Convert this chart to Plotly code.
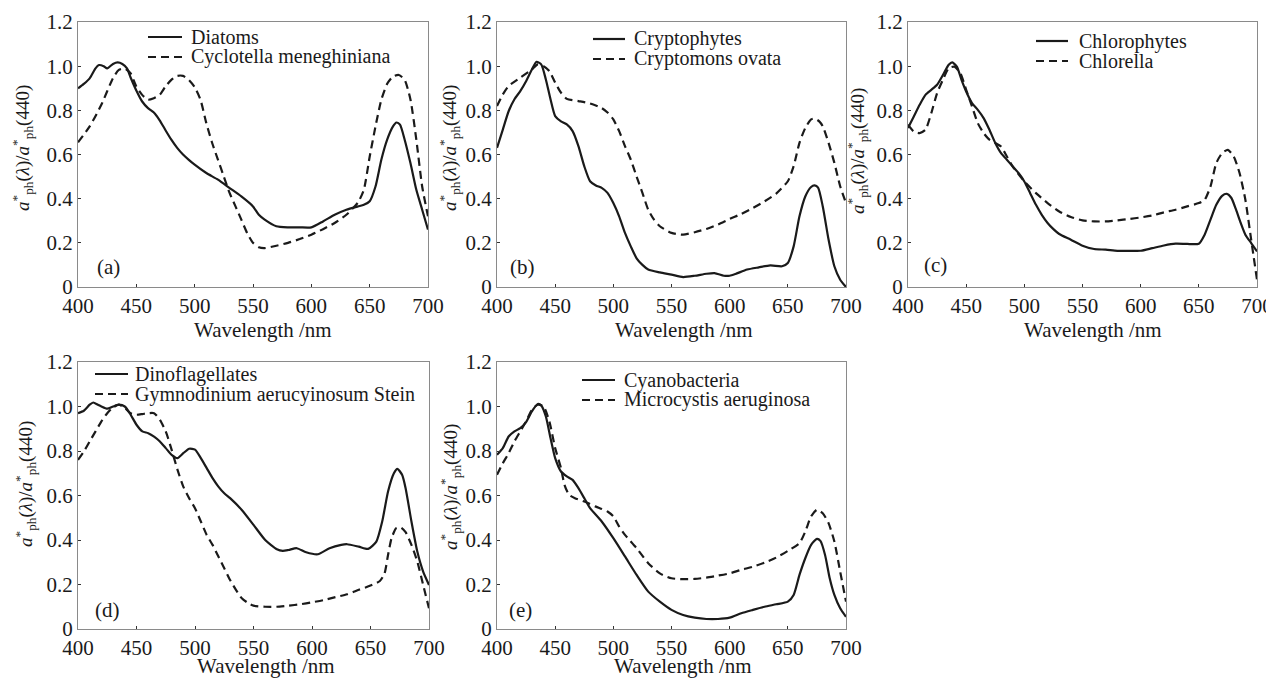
import plotly.graph_objects as go

# ---------------- data ----------------
wl_a_solid = [400,405,410,415,418,422,425,430,434,438,442,445,450,455,460,465,470,475,480,485,490,495,500,510,520,530,540,550,555,560,570,580,590,600,610,620,630,640,645,650,655,660,665,670,673,676,680,685,690,695,700]
diatoms = [0.90,0.92,0.945,0.99,1.005,1.0,0.99,1.01,1.017,1.01,0.99,0.95,0.89,0.84,0.81,0.79,0.755,0.71,0.667,0.63,0.60,0.576,0.554,0.516,0.486,0.448,0.41,0.365,0.327,0.305,0.275,0.27,0.27,0.27,0.297,0.327,0.35,0.365,0.372,0.388,0.455,0.576,0.667,0.727,0.745,0.735,0.667,0.56,0.44,0.35,0.26]
wl_a_dash = [400,410,420,430,435,440,445,450,455,460,465,470,475,480,485,490,495,500,505,510,515,520,525,530,535,540,545,550,555,560,570,580,590,600,610,620,630,640,645,650,655,660,665,670,675,680,685,690,695,700]
cyclotella = [0.655,0.727,0.825,0.946,0.983,0.99,0.968,0.908,0.87,0.848,0.855,0.87,0.908,0.938,0.956,0.956,0.938,0.905,0.848,0.742,0.652,0.576,0.50,0.425,0.365,0.305,0.244,0.20,0.18,0.176,0.187,0.20,0.217,0.237,0.262,0.29,0.327,0.383,0.44,0.59,0.727,0.848,0.92,0.953,0.96,0.938,0.848,0.667,0.455,0.32]

wl_b_solid = [400,405,410,415,420,425,430,434,438,442,446,450,455,460,465,470,475,480,485,490,495,500,505,510,515,520,525,530,540,550,560,570,580,587,595,600,605,615,625,635,645,650,655,660,665,670,673,676,680,685,690,695,700]
cryptophytes = [0.63,0.713,0.796,0.85,0.887,0.932,0.985,1.02,1.008,0.94,0.85,0.774,0.75,0.736,0.706,0.638,0.547,0.479,0.46,0.449,0.426,0.38,0.32,0.245,0.184,0.13,0.10,0.079,0.066,0.056,0.045,0.051,0.06,0.063,0.051,0.051,0.059,0.079,0.089,0.098,0.094,0.109,0.184,0.32,0.41,0.453,0.46,0.45,0.366,0.215,0.094,0.033,0.0]
wl_b_dash = [400,405,410,420,430,435,440,445,450,455,460,470,480,490,495,500,505,510,515,520,525,530,535,540,550,560,570,580,590,600,610,620,630,640,650,655,660,665,670,673,677,680,685,690,695,700]
cryptomons = [0.82,0.872,0.91,0.948,0.985,1.008,1.0,0.978,0.925,0.88,0.852,0.842,0.831,0.81,0.79,0.759,0.706,0.638,0.577,0.50,0.426,0.35,0.305,0.275,0.245,0.237,0.248,0.263,0.283,0.308,0.331,0.358,0.388,0.423,0.479,0.547,0.653,0.72,0.759,0.763,0.75,0.728,0.653,0.562,0.456,0.38]

wl_c_solid = [400,405,410,415,420,425,430,435,438,442,446,450,455,460,465,470,475,480,485,490,495,500,505,510,515,520,525,530,540,550,560,570,580,590,600,610,620,630,640,650,655,660,665,670,674,678,682,686,690,695,700]
chlorophytes = [0.72,0.772,0.825,0.87,0.893,0.916,0.96,1.006,1.017,0.998,0.938,0.885,0.833,0.802,0.765,0.712,0.652,0.606,0.576,0.546,0.516,0.478,0.425,0.372,0.327,0.29,0.262,0.24,0.214,0.187,0.172,0.169,0.164,0.164,0.164,0.176,0.188,0.196,0.195,0.196,0.237,0.305,0.372,0.413,0.422,0.403,0.35,0.29,0.237,0.199,0.161]
wl_c_dash = [400,405,410,415,420,425,430,435,440,445,450,455,460,465,470,475,480,485,490,500,510,520,530,540,550,560,570,580,590,600,610,620,630,640,650,655,660,665,670,675,680,685,690,695,700]
chlorella = [0.735,0.704,0.697,0.712,0.787,0.878,0.938,0.991,0.998,0.968,0.893,0.818,0.742,0.697,0.667,0.652,0.636,0.591,0.546,0.478,0.425,0.38,0.342,0.317,0.302,0.297,0.297,0.302,0.308,0.315,0.324,0.338,0.35,0.365,0.38,0.395,0.455,0.561,0.606,0.621,0.591,0.516,0.395,0.214,0.033]

wl_d_solid = [400,405,410,413,417,420,425,430,435,440,445,450,455,460,465,470,475,480,485,490,495,500,505,510,515,520,525,530,540,550,560,570,575,580,587,595,605,615,625,630,640,648,655,660,665,670,673,677,680,685,690,695,700]
dinoflagellates = [0.97,0.981,1.008,1.018,1.008,1.0,0.99,1.0,1.008,1.0,0.963,0.918,0.888,0.88,0.865,0.843,0.813,0.783,0.768,0.79,0.81,0.806,0.768,0.723,0.678,0.64,0.61,0.588,0.535,0.468,0.40,0.358,0.351,0.355,0.363,0.345,0.336,0.363,0.378,0.381,0.37,0.36,0.393,0.483,0.618,0.70,0.72,0.693,0.633,0.483,0.348,0.258,0.198]
wl_d_dash = [400,405,410,415,420,425,430,435,440,445,450,455,460,465,470,475,480,485,490,495,500,505,510,515,520,525,530,535,540,545,550,560,570,580,590,600,610,620,630,640,650,658,662,665,668,672,676,680,685,690,695,700]
gymnodinium = [0.76,0.798,0.843,0.888,0.933,0.97,0.996,1.008,0.993,0.97,0.963,0.966,0.97,0.97,0.94,0.888,0.806,0.716,0.64,0.588,0.543,0.483,0.423,0.378,0.326,0.273,0.22,0.176,0.138,0.118,0.105,0.10,0.10,0.105,0.111,0.12,0.13,0.143,0.156,0.176,0.195,0.216,0.25,0.333,0.408,0.453,0.456,0.435,0.378,0.303,0.198,0.093]

wl_e_solid = [400,405,410,415,420,425,430,435,438,442,446,450,455,460,465,470,475,480,490,500,510,520,530,540,550,560,570,580,590,600,610,620,630,640,650,655,660,665,670,675,678,682,686,690,695,700]
cyanobacteria = [0.783,0.813,0.865,0.888,0.903,0.93,0.978,1.011,1.005,0.955,0.858,0.768,0.708,0.686,0.67,0.633,0.588,0.543,0.483,0.408,0.326,0.243,0.168,0.123,0.086,0.063,0.051,0.045,0.045,0.051,0.071,0.086,0.10,0.111,0.123,0.153,0.243,0.318,0.378,0.405,0.396,0.333,0.228,0.153,0.093,0.055]
wl_e_dash = [400,405,410,415,420,425,430,435,440,445,450,455,458,462,467,475,485,495,500,505,510,520,530,540,550,560,570,580,590,600,610,620,630,640,650,660,665,670,675,680,685,690,695,700]
microcystis = [0.693,0.745,0.79,0.843,0.888,0.933,0.985,1.008,1.0,0.933,0.813,0.723,0.648,0.603,0.588,0.573,0.55,0.528,0.506,0.46,0.423,0.363,0.296,0.25,0.228,0.224,0.225,0.231,0.24,0.25,0.266,0.28,0.298,0.321,0.351,0.386,0.438,0.506,0.536,0.52,0.476,0.393,0.258,0.123]

panel_labels = ["(a)", "(b)", "(c)", "(d)", "(e)"]
x_ticks = [400, 450, 500, 550, 600, 650, 700]
y_ticks = [0, 0.2, 0.4, 0.6, 0.8, 1.0, 1.2]
y_ticktext = ["0", "0.2", "0.4", "0.6", "0.8", "1.0", "1.2"]
x_title = "Wavelength /nm"
y_title = "<i>a</i><sup>*</sup><sub>ph</sub>(<i>λ</i>)/<i>a</i><sup>*</sup><sub>ph</sub>(440)"

panels = [
    (wl_a_solid, diatoms, "Diatoms", wl_a_dash, cyclotella, "Cyclotella meneghiniana"),
    (wl_b_solid, cryptophytes, "Cryptophytes", wl_b_dash, cryptomons, "Cryptomons ovata"),
    (wl_c_solid, chlorophytes, "Chlorophytes", wl_c_dash, chlorella, "Chlorella"),
    (wl_d_solid, dinoflagellates, "Dinoflagellates", wl_d_dash, gymnodinium, "Gymnodinium aerucyinosum Stein"),
    (wl_e_solid, cyanobacteria, "Cyanobacteria", wl_e_dash, microcystis, "Microcystis aeruginosa"),
]

# ---------------- layout geometry (pixels in the screenshot) ----------------
W, H = 1274, 680
OFF = 8  # default <body> margin of the written page
boxes = [  # left, right, top, bottom in px
    (78, 428, 22, 287),
    (497, 846, 22, 287),
    (908, 1257, 22, 287),
    (78, 429, 362, 629),
    (497, 846, 362, 629),
]
legend_pos = [  # key-start x, key-end x, text x, row1 y, row2 y
    (148, 182, 189, 37, 57),
    (593, 625, 632, 39, 59),
    (1036, 1068, 1077, 41, 61),
    (95, 128, 133, 374, 394),
    (582, 615, 622, 380, 400),
]
xtitle_pos = [(263, 330), (684, 330), (1093, 330), (266, 666), (683, 666)]
ytitle_pos = [(23, 148), (450, 148), (857, 151), (26, 484), (450, 487)]
label_pos = [(426, 0.09), (421.5, 0.09), (424, 0.1), (425.6, 0.085), (420.6, 0.085)]

FONT = "Liberation Serif"
INK = "#1a1a1a"
DASH = "8px,5px"


def px_x(p):
    return (p - OFF) / W


def px_y(p):
    return 1 - (p - OFF) / H


fig = go.Figure()
layout = dict(
    width=W, height=H, margin=dict(l=0, r=0, t=0, b=0),
    paper_bgcolor="white", plot_bgcolor="white",
    font=dict(family=FONT, color=INK, size=20),
    showlegend=False,
    annotations=[], shapes=[],
)

for i, (xs, ys, n1, xd, yd, n2) in enumerate(panels):
    k = "" if i == 0 else str(i + 1)
    l, r, t, b = boxes[i]
    ax_common = dict(showgrid=False, zeroline=False, showline=True, mirror=True, automargin=False,
                     linecolor="#8a8a8a", linewidth=1.3, ticks="inside", ticklen=3,
                     tickcolor="#333", tickfont=dict(size=21, family=FONT, color=INK))
    layout["xaxis" + k] = dict(ax_common, domain=[px_x(l), px_x(r)], range=[400, 700],
                               tickvals=x_ticks, anchor="y" + k)
    layout["yaxis" + k] = dict(ax_common, domain=[px_y(b), px_y(t)], range=[0, 1.2],
                               tickvals=y_ticks, ticktext=y_ticktext, anchor="x" + k)
    ks, ke, tx, r1, r2 = legend_pos[i]
    for (xx, yy, name, dash, ry) in [(xs, ys, n1, "solid", r1), (xd, yd, n2, DASH, r2)]:
        fig.add_trace(go.Scatter(x=xx, y=yy, mode="lines", name=name,
                                 line=dict(color=INK, width=2.2, dash=dash, shape="spline", smoothing=0.6),
                                 xaxis="x" + k, yaxis="y" + k))
        # legend key + legend text
        layout["shapes"].append(dict(type="line", xref="paper", yref="paper",
                                     x0=px_x(ks), x1=px_x(ke), y0=px_y(ry), y1=px_y(ry),
                                     line=dict(color=INK, width=2.2, dash=dash)))
        layout["annotations"].append(dict(x=px_x(tx), y=px_y(ry), xref="paper", yref="paper",
                                          xanchor="left", yanchor="middle", text=name, showarrow=False,
                                          font=dict(size=20, family=FONT, color=INK)))
    # axis titles
    xt = xtitle_pos[i]
    layout["annotations"].append(dict(x=px_x(xt[0]), y=px_y(xt[1]), xref="paper", yref="paper",
                                      xanchor="center", yanchor="middle", text=x_title, showarrow=False,
                                      font=dict(size=21, family=FONT, color=INK)))
    yt = ytitle_pos[i]
    layout["annotations"].append(dict(x=px_x(yt[0]), y=px_y(yt[1]), xref="paper", yref="paper",
                                      xanchor="center", yanchor="middle", text=y_title, showarrow=False,
                                      textangle=-90, font=dict(size=19, family=FONT, color=INK)))
    lx, ly = label_pos[i]
    layout["annotations"].append(dict(x=lx, y=ly, xref="x" + k, yref="y" + k, text=panel_labels[i],
                                      showarrow=False, font=dict(size=21, family=FONT, color=INK)))

fig.update_layout(**layout)
fig.write_html("out.html")
